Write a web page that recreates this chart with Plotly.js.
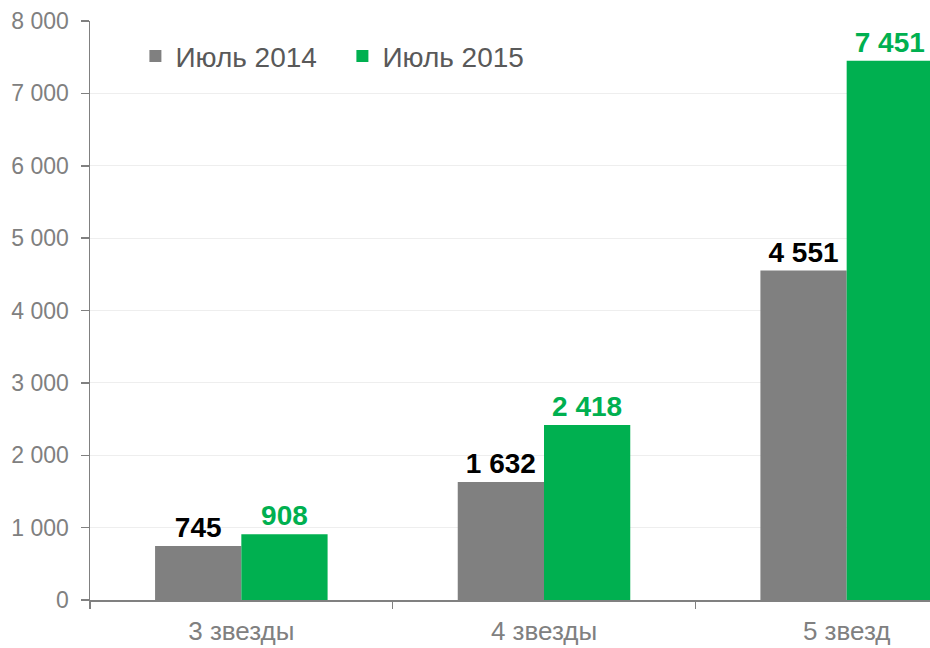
<!DOCTYPE html>
<html>
<head>
<meta charset="utf-8">
<script src="https://cdn.plot.ly/plotly-3.0.1.min.js"></script>
<style>
html,body{margin:0;padding:0;overflow:hidden;background:#fff;}
#chart{width:1010px;height:648px;}
</style>
</head>
<body>
<div id="chart"></div>
<script>
const categories = ["3 звезды", "4 звезды", "5 звезд"];
const seriesNames = ["Июль 2014", "Июль 2015"];
const values2014 = [745, 1632, 4551];
const values2015 = [908, 2418, 7451];
const yTicks = [0, 1000, 2000, 3000, 4000, 5000, 6000, 7000, 8000];

const gray = "#808080";
const green = "#00B050";
const fontFam = "Liberation Sans, Arial, sans-serif";

const traces = [
  {
    type: "bar", name: seriesNames[0], x: categories, y: values2014,
    marker: {color: gray},
    text: values2014, texttemplate: "<b>%{y:,d}</b>", textposition: "outside",
    textfont: {family: fontFam, size: 28, color: "#000000"},
    constraintext: "none", cliponaxis: false, hoverinfo: "none"
  },
  {
    type: "bar", name: seriesNames[1], x: categories, y: values2015,
    marker: {color: green},
    text: values2015, texttemplate: "<b>%{y:,d}</b>", textposition: "outside",
    textfont: {family: fontFam, size: 28, color: green},
    constraintext: "none", cliponaxis: false, hoverinfo: "none"
  }
];

const layout = {
  width: 1010, height: 648,
  margin: {l: 90, r: 12, t: 21, b: 48},
  paper_bgcolor: "#ffffff", plot_bgcolor: "#ffffff",
  separators: ". ",
  font: {family: fontFam, color: gray},
  barmode: "group", bargap: 0.43, bargroupgap: 0,
  showlegend: true,
  legend: {
    orientation: "h", x: 0.05, y: 0.982, xanchor: "left", yanchor: "top",
    font: {family: fontFam, size: 28, color: "#595959"},
    bgcolor: "rgba(0,0,0,0)", tracegroupgap: 0,
    entrywidth: 162, entrywidthmode: "pixels"
  },
  xaxis: {
    type: "category", tickson: "boundaries", ticks: "outside", ticklen: 7,
    tickcolor: gray, tickwidth: 1.5,
    showline: true, linecolor: gray, linewidth: 1.5,
    showgrid: false, ticklabelstandoff: 7,
    tickfont: {family: fontFam, size: 26, color: gray}
  },
  yaxis: {
    range: [0, 8000], tickvals: yTicks, tickformat: ",d",
    ticks: "outside", ticklen: 8, tickcolor: gray, tickwidth: 1.5,
    showline: true, linecolor: gray, linewidth: 1.5,
    showgrid: true, gridcolor: "#eeeeee", gridwidth: 1,
    zeroline: false, ticklabelstandoff: 7,
    tickfont: {family: fontFam, size: 23, color: gray}
  }
};

Plotly.newPlot("chart", traces, layout, {staticPlot: true, displayModeBar: false});
</script>
</body>
</html>
